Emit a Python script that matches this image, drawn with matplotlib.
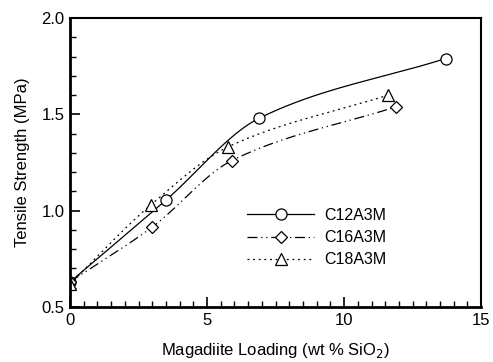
import matplotlib
matplotlib.use("Agg")
import matplotlib.pyplot as plt
import numpy as np
from matplotlib.ticker import MultipleLocator

plt.rcParams['font.family'] = ['Liberation Sans', 'DejaVu Sans']

# datos
x_c12 = [0.0, 3.5, 6.9, 13.7]
y_c12 = [0.63, 1.055, 1.48, 1.79]
x_c16 = [0.0, 3.0, 5.9, 11.9]
y_c16 = [0.63, 0.915, 1.26, 1.54]
x_c18 = [0.0, 2.95, 5.75, 11.6]
y_c18 = [0.62, 1.03, 1.33, 1.60]


def pchip(xs, ys, xx):
    # interpolacion cubica monotona (suaviza la curva entre los puntos)
    x = np.asarray(xs, float)
    y = np.asarray(ys, float)
    h = np.diff(x)
    d = np.diff(y) / h
    m = np.zeros_like(y)
    for k in range(1, len(x) - 1):
        if d[k - 1] * d[k] > 0:
            w1 = 2 * h[k] + h[k - 1]
            w2 = h[k] + 2 * h[k - 1]
            m[k] = (w1 + w2) / (w1 / d[k - 1] + w2 / d[k])
    m[0] = d[0]
    m[-1] = d[-1]
    i = np.clip(np.searchsorted(x, xx) - 1, 0, len(x) - 2)
    t = (xx - x[i]) / h[i]
    h00 = 2 * t**3 - 3 * t**2 + 1
    h10 = t**3 - 2 * t**2 + t
    h01 = -2 * t**3 + 3 * t**2
    h11 = t**3 - t**2
    return h00 * y[i] + h10 * h[i] * m[i] + h01 * y[i + 1] + h11 * h[i] * m[i + 1]


fig = plt.figure(figsize=(4.93, 3.62), dpi=100)
ax = fig.add_axes([0.142, 0.152, 0.834, 0.798])

series = [
    ("C12A3M", x_c12, y_c12, 'o', 8, '-'),
    ("C16A3M", x_c16, y_c16, 'D', 6, (0, (8, 3, 1, 3, 1, 3))),
    ("C18A3M", x_c18, y_c18, '^', 8, (0, (1.5, 3))),
]

for nombre, xs, ys, m, ms, ls in series:
    xx = np.linspace(xs[0], xs[-1], 300)
    ax.plot(xx, pchip(xs, ys, xx), color='black', lw=0.9, ls=ls)
    ax.plot(xs, ys, ls='none', marker=m, ms=ms, mfc='white', mec='black', mew=0.9)
    ax.plot([], [], color='black', lw=0.9, ls=ls, marker=m, ms=ms, mfc='white',
            mec='black', mew=0.9, label=nombre)

ax.set_xlim(0, 15)
ax.set_ylim(0.5, 2.0)
ax.set_xticks([0, 5, 10, 15])
ax.set_xticklabels(['0', '5', '10', '15'])
ax.set_yticks([0.5, 1.0, 1.5, 2.0])
ax.set_yticklabels(['0.5', '1.0', '1.5', '2.0'])
ax.xaxis.set_minor_locator(MultipleLocator(0.5))
ax.yaxis.set_minor_locator(MultipleLocator(0.1))
ax.tick_params(which='major', direction='in', length=7, width=1.2, labelsize=12, pad=4)
ax.tick_params(which='minor', direction='in', length=4, width=1.0)
for s in ['left', 'bottom']:
    ax.spines[s].set_linewidth(2)
for s in ['top', 'right']:
    ax.spines[s].set_linewidth(1.5)

ax.set_xlabel("Magadiite Loading (wt % SiO$_2$)", fontsize=12, labelpad=10)
ax.set_ylabel("Tensile Strength (MPa)", fontsize=12, labelpad=8)

leg = ax.legend(loc='center', bbox_to_anchor=(0.6, 0.24), frameon=False, fontsize=11.5,
                handlelength=4.2, labelspacing=0.45, handletextpad=0.6)

plt.savefig("out.png", dpi=100)
